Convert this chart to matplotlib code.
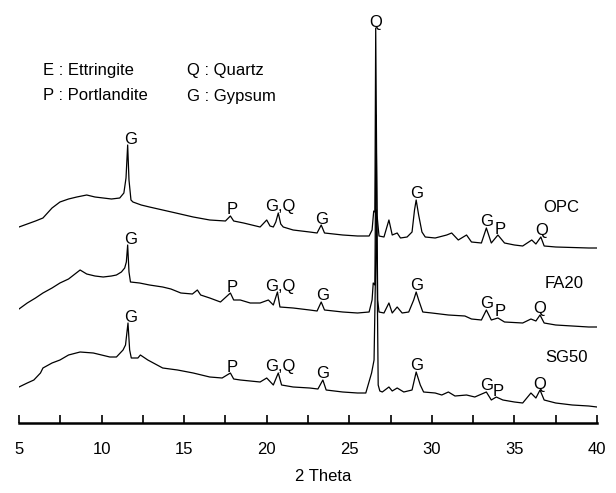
import numpy as np
import matplotlib
matplotlib.use("Agg")
import matplotlib.pyplot as plt
from matplotlib.ticker import MultipleLocator

plt.rcParams['font.family'] = ['Liberation Sans', 'DejaVu Sans']

# XRD patterns, 2-theta (deg) vs relative intensity
opc_theta = [5.0, 5.5, 6.0, 6.45, 7.0, 7.48, 8.0, 8.5, 9.1, 9.6, 10.1, 10.6, 11.1, 11.35,
             11.48, 11.58, 11.66, 11.78, 11.9, 12.4, 12.9, 13.7, 14.5, 15.55, 16.55, 17.5,
             17.8, 18.0, 18.6, 19.6, 20.0, 20.2, 20.4, 20.55, 20.7, 20.85, 21.0, 21.6, 22.6,
             23.05, 23.3, 23.5, 24.6, 25.5, 26.2, 26.38, 26.48, 26.55, 26.6, 26.68, 26.8,
             27.1, 27.4, 27.6, 27.9, 28.1, 28.5, 28.8, 28.95, 29.05, 29.2, 29.4, 29.6, 30.2,
             30.9, 31.2, 31.6, 32.1, 32.4, 33.0, 33.3, 33.6, 34.0, 34.4, 35.0, 35.5, 36.05,
             36.3, 36.6, 36.8, 37.5, 38.5, 39.5, 40.0]
opc_int = [23, 26, 29, 32, 42, 48, 51, 53, 55, 53, 52, 51, 52, 57,
           72, 105, 70, 50, 48, 45, 43, 40, 37, 33, 30, 29,
           34, 29, 27, 23, 30, 24, 23, 28, 37, 26, 23, 20, 18,
           17, 25, 17, 15, 14, 14, 20, 39, 38, 222, 35, 14,
           13, 30, 15, 17, 12, 13, 18, 40, 50, 35, 18, 13, 12,
           15, 17, 10, 15, 8, 7, 22, 7, 15, 7, 5, 4, 10,
           6, 13, 4, 3, 2.5, 2, 2]

fa20_theta = [5.0, 5.5, 6.0, 6.45, 7.0, 7.48, 8.0, 8.7, 9.1, 9.6, 10.1, 10.6, 10.9, 11.2,
              11.4, 11.5, 11.58, 11.66, 11.75, 12.3, 12.9, 13.7, 14.2, 14.8, 15.5, 15.8,
              16.0, 16.55, 17.2, 17.8, 18.0, 18.4, 19.0, 19.6, 20.1, 20.4, 20.65, 20.8,
              21.6, 22.6, 23.05, 23.3, 23.5, 24.6, 25.5, 26.2, 26.38, 26.45, 26.55, 26.62,
              26.72, 26.8, 27.1, 27.4, 27.6, 27.9, 28.2, 28.6, 28.9, 29.05, 29.2, 29.45,
              30.0, 31.0, 32.0, 32.4, 33.0, 33.3, 33.6, 34.0, 34.4, 35.5, 36.0, 36.3,
              36.55, 36.8, 37.5, 38.5, 39.5, 40.0]
fa20_int = [21, 27, 32, 37, 42, 47, 51, 60, 56, 54, 53, 54, 55, 58,
            62, 68, 85, 58, 48, 47, 45, 43, 41, 37, 36, 40,
            35, 32, 28, 37, 30, 30, 27, 27, 30, 25, 38, 23,
            22, 20, 19, 28, 20, 18, 17, 18, 30, 47, 45, 215,
            30, 18, 17, 27, 17, 23, 17, 18, 30, 38, 30, 18,
            17, 15, 14, 11, 10, 20, 10, 12, 8, 7, 11, 9,
            15, 7, 5, 4, 3, 3]

sg50_theta = [5.0, 5.5, 5.9, 6.3, 6.45, 7.0, 7.48, 8.0, 8.7, 9.5, 10.0, 10.5, 10.9, 11.3,
              11.45, 11.6, 11.7, 11.8, 12.2, 12.35, 12.8, 13.7, 14.6, 15.55, 16.55, 17.3,
              17.8, 18.0, 18.4, 19.6, 20.0, 20.4, 20.7, 20.9, 21.6, 22.6, 23.1, 23.4, 23.6,
              24.6, 25.5, 26.0, 26.35, 26.5, 26.65, 26.75, 26.85, 27.0, 27.4, 27.6, 27.9,
              28.3, 28.8, 29.05, 29.3, 29.5, 30.2, 30.6, 31.0, 31.4, 32.1, 32.6, 33.3,
              33.6, 33.9, 34.3, 35.0, 35.5, 36.0, 36.3, 36.55, 36.8, 37.5, 38.5, 39.5, 40.0]
sg50_int = [23, 27, 30, 37, 42, 47, 50, 55, 58, 57, 55, 53, 53, 60,
            65, 87, 60, 52, 52, 55, 50, 42, 40, 37, 33, 32,
            37, 31, 30, 28, 32, 25, 37, 25, 23, 22, 21, 30, 20,
            18, 17, 17, 37, 50, 200, 25, 19, 18, 23, 19, 22,
            18, 20, 38, 25, 18, 17, 15, 18, 14, 15, 13, 18,
            10, 13, 10, 8, 7, 17, 12, 20, 10, 7, 5, 4, 3]

samples = ["OPC", "FA20", "SG50"]
thetas = [opc_theta, fa20_theta, sg50_theta]
intensities = [opc_int, fa20_int, sg50_int]

# phase marks on each pattern: (2-theta of label, letter)
opc_marks = [(11.77, "G"), (17.9, "P"), (20.85, "G,Q"), (23.35, "G"), (26.6, "Q"),
             (29.07, "G"), (33.33, "G"), (34.13, "P"), (36.65, "Q")]
fa20_marks = [(11.75, "G"), (17.88, "P"), (20.82, "G,Q"), (23.4, "G"), (29.1, "G"),
              (33.33, "G"), (34.13, "P"), (36.55, "Q")]
sg50_marks = [(11.75, "G"), (17.88, "P"), (20.82, "G,Q"), (23.4, "G"), (29.1, "G"),
              (33.33, "G"), (34.0, "P"), (36.55, "Q")]
marks = [opc_marks, fa20_marks, sg50_marks]

legend_lines = [("E : Ettringite", "Q : Quartz"), ("P : Portlandite", "G : Gypsum")]

offsets = [173, 93, 13]
# where the sample names sit (2-theta, height)
name_pos = [(37.85, 215), (38.0, 139), (38.15, 66)]

fig = plt.figure(figsize=(6.16, 4.93), dpi=100)
ax = fig.add_axes([19 / 616, 70 / 493, 578 / 616, 423 / 493])

for name, th, inten, off, mk, npos in zip(samples, thetas, intensities, offsets, marks, name_pos):
    th = np.array(th)
    y = np.array(inten) + off
    ax.plot(th, y, color="black", lw=0.9)
    for pos, letter in mk:
        near = np.abs(th - pos) < 0.2
        top = y[near].max()
        ax.text(pos, top + 1.5, letter, ha="center", va="baseline", fontsize=12)
    ax.text(npos[0], npos[1], name, ha="center", va="center", fontsize=12)

ax.text(6.45, 353, legend_lines[0][0], ha="left", va="center", fontsize=12)
ax.text(15.18, 353, legend_lines[0][1], ha="left", va="center", fontsize=12)
ax.text(6.45, 327, legend_lines[1][0], ha="left", va="center", fontsize=12)
ax.text(15.18, 327, legend_lines[1][1], ha="left", va="center", fontsize=12)

ax.set_xlim(5, 40)
ax.set_ylim(0, 423)
ax.xaxis.set_major_locator(MultipleLocator(5))
ax.xaxis.set_minor_locator(MultipleLocator(2.5))
ax.tick_params(axis="x", which="both", direction="in", length=6, width=1.2,
               labelsize=12, pad=14)
ax.set_yticks([])
for side in ["left", "right", "top"]:
    ax.spines[side].set_visible(False)
ax.spines["bottom"].set_linewidth(1.8)
ax.set_xlabel("2 Theta", fontsize=12)
ax.xaxis.set_label_coords((323 - 19) / 578, -(476.7 - 423) / 423)
ax.xaxis.label.set_va("center")
ax.patch.set_visible(False)

fig.savefig("out.png", dpi=100)
